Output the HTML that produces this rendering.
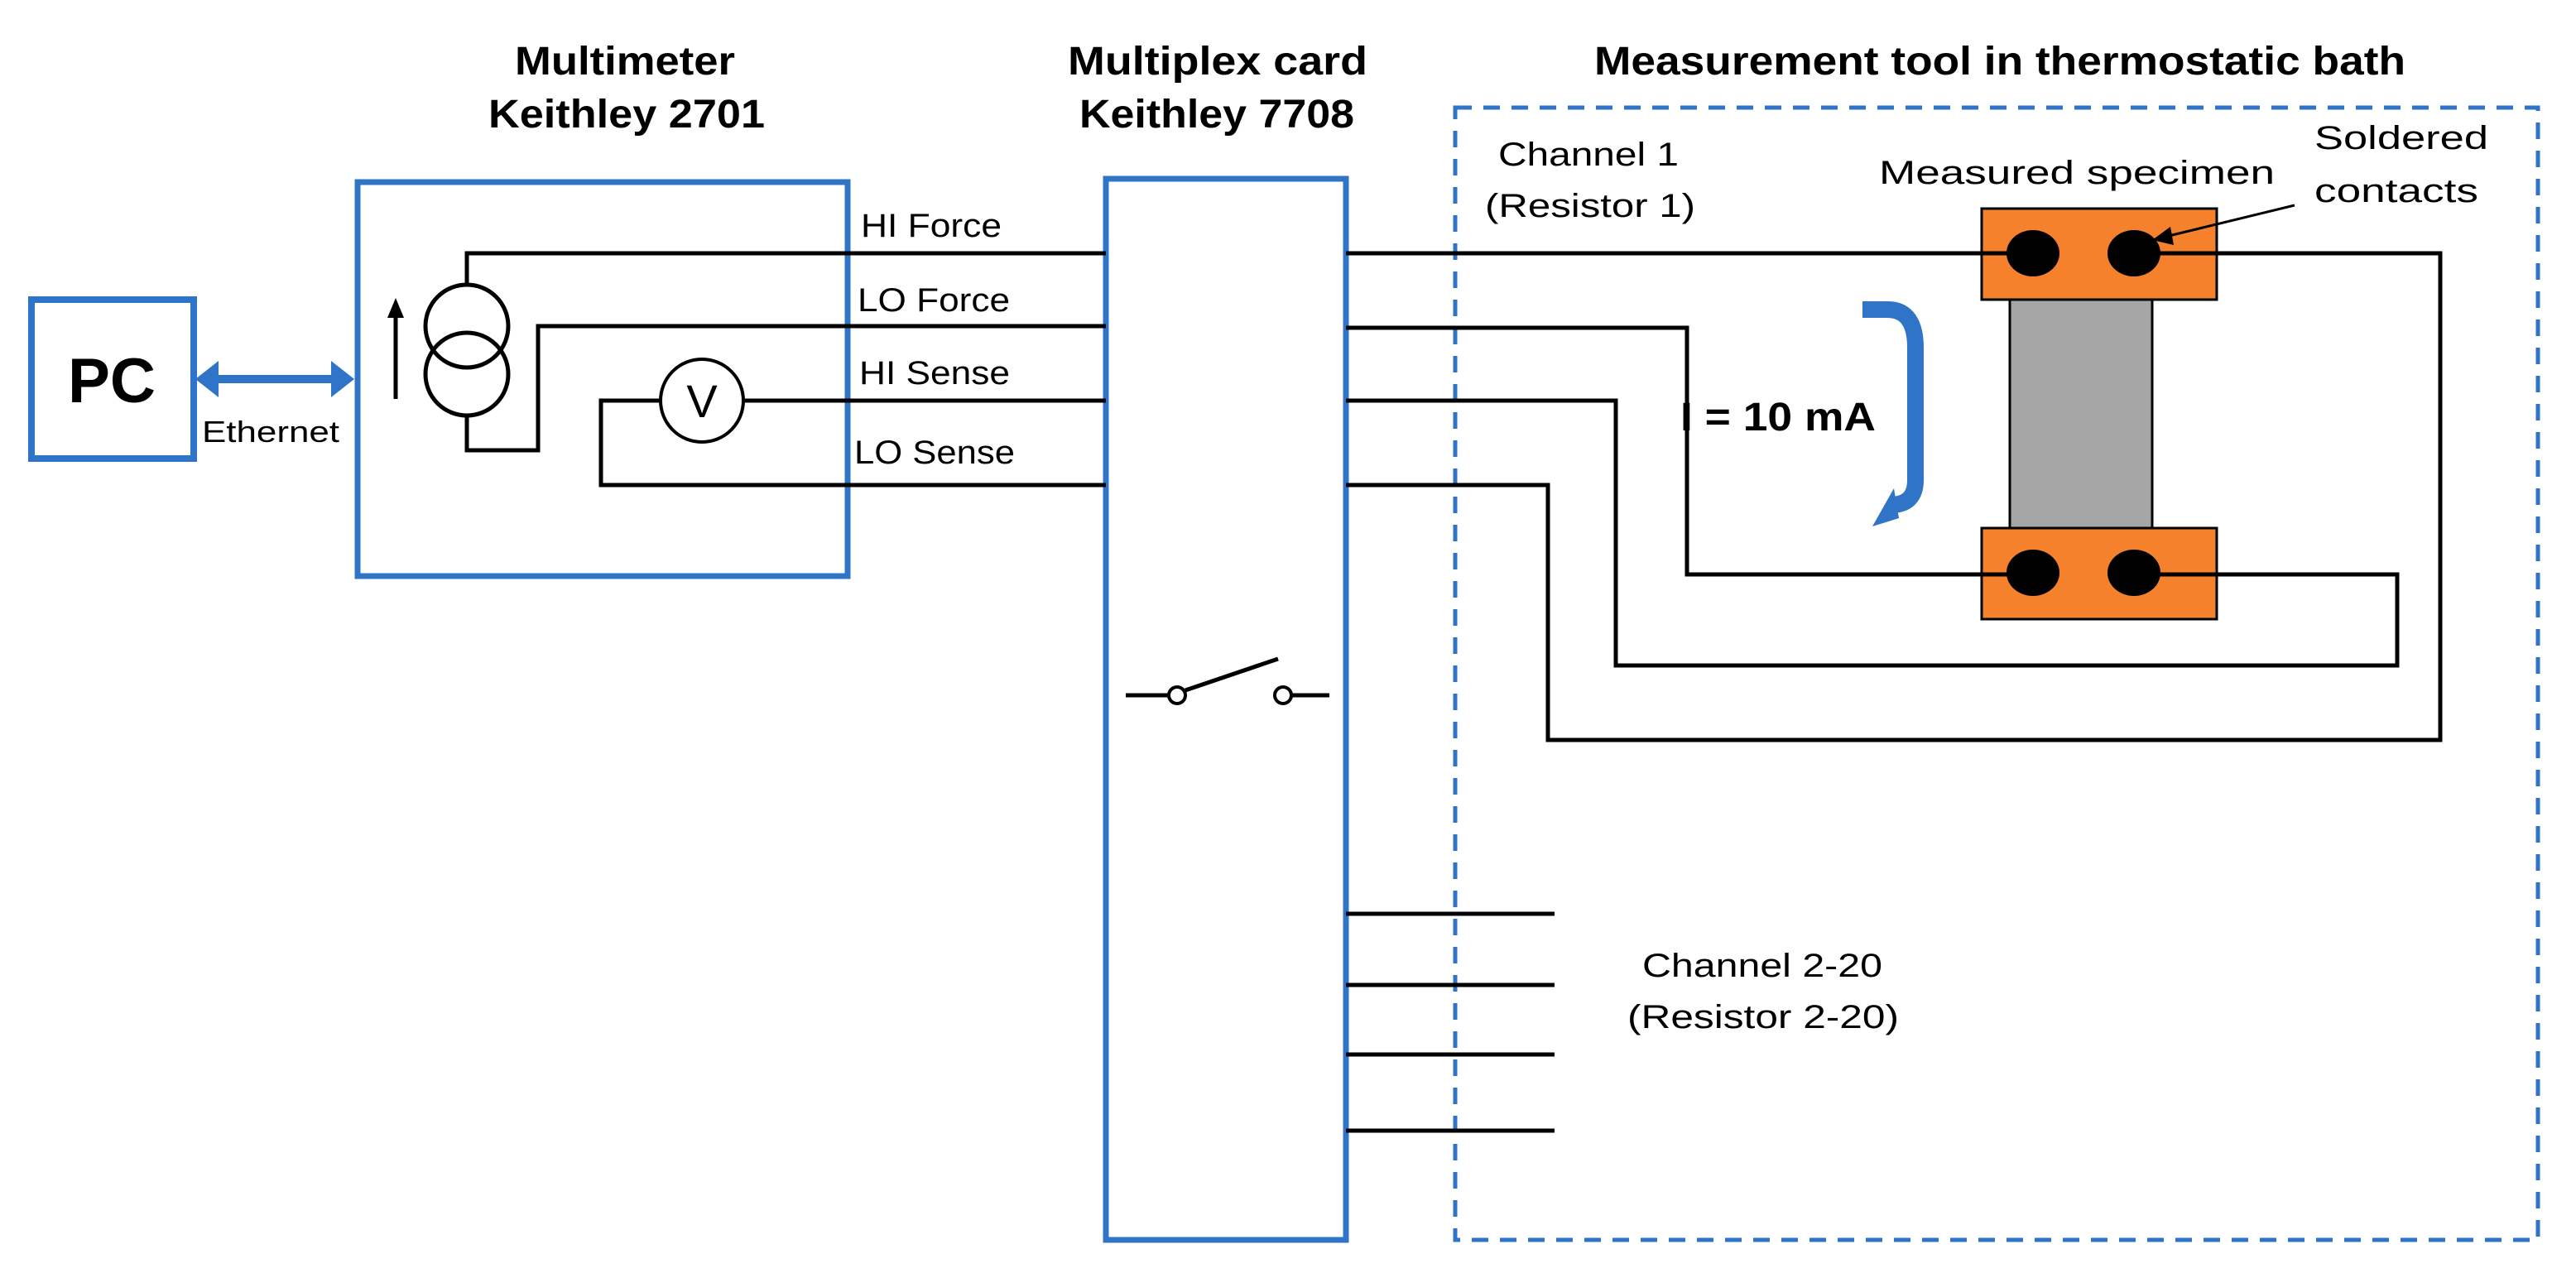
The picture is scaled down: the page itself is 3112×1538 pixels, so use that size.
<!DOCTYPE html>
<html><head><meta charset="utf-8"><style>
html,body{margin:0;padding:0;background:#fff;}
svg{display:block;}
text{font-family:"Liberation Sans",Arial,sans-serif;}
</style></head><body>
<svg width="3112" height="1538" viewBox="0 0 1556 769" xmlns="http://www.w3.org/2000/svg">
<!-- titles -->
<g font-weight="bold" font-size="24" fill="#000" lengthAdjust="spacingAndGlyphs">
<text x="311" y="45" textLength="133" lengthAdjust="spacingAndGlyphs">Multimeter</text>
<text x="295" y="77" textLength="167" lengthAdjust="spacingAndGlyphs">Keithley 2701</text>
<text x="645" y="45" textLength="181" lengthAdjust="spacingAndGlyphs">Multiplex card</text>
<text x="652" y="77" textLength="166" lengthAdjust="spacingAndGlyphs">Keithley 7708</text>
<text x="963" y="45" textLength="490" lengthAdjust="spacingAndGlyphs">Measurement tool in thermostatic bath</text>
</g>
<!-- PC -->
<rect x="19" y="181" width="98" height="96" fill="none" stroke="#2f74c6" stroke-width="4"/>
<text x="41" y="243" font-size="38" font-weight="bold" textLength="53" lengthAdjust="spacingAndGlyphs">PC</text>
<line x1="128" y1="229" x2="204" y2="229" stroke="#2f74c6" stroke-width="5"/>
<path d="M118,229 L132,218 L132,240 z" fill="#2f74c6"/>
<path d="M214,229 L200,218 L200,240 z" fill="#2f74c6"/>
<text x="122" y="267" font-size="18" textLength="83" lengthAdjust="spacingAndGlyphs">Ethernet</text>
<!-- boxes -->
<rect x="216" y="110" width="296" height="238" fill="none" stroke="#2f74c6" stroke-width="3.5"/>
<rect x="668" y="108" width="145" height="641" fill="none" stroke="#2f74c6" stroke-width="3.5"/>
<rect x="879" y="65" width="654" height="684" fill="none" stroke="#2f74c6" stroke-width="2.5" stroke-dasharray="10,7"/>
<!-- specimen -->
<rect x="1214" y="180" width="86" height="139" fill="#a6a6a6" stroke="#000" stroke-width="1.5"/>
<rect x="1197" y="126" width="142" height="55" fill="#f6812c" stroke="#000" stroke-width="1.5"/>
<rect x="1197" y="319" width="142" height="55" fill="#f6812c" stroke="#000" stroke-width="1.5"/>
<!-- wires -->
<g fill="none" stroke="#000" stroke-width="2.5">
<polyline points="668,153 282,153 282,171"/>
<polyline points="282,251 282,272 325,272 325,197 668,197"/>
<line x1="450" y1="242" x2="668" y2="242"/>
<polyline points="400,242 363,242 363,293 668,293"/>
<circle cx="282" cy="197" r="25"/>
<circle cx="282" cy="226" r="25"/>
<circle cx="424" cy="242" r="25" stroke-width="2"/>
<line x1="813" y1="153" x2="1228" y2="153"/>
<polyline points="1289,153 1474,153 1474,447 935,447 935,293 813,293"/>
<polyline points="813,198 1019,198 1019,347 1228,347"/>
<polyline points="1289,347 1448,347 1448,402 976,402 976,242 813,242"/>
<line x1="680" y1="420" x2="706" y2="420"/>
<line x1="780" y1="420" x2="803" y2="420"/>
<line x1="716" y1="417" x2="772" y2="398"/>
<line x1="813" y1="552" x2="939" y2="552"/>
<line x1="813" y1="595" x2="939" y2="595"/>
<line x1="813" y1="637" x2="939" y2="637"/>
<line x1="813" y1="683" x2="939" y2="683"/>
</g>
<circle cx="711" cy="420" r="5" fill="#fff" stroke="#000" stroke-width="2"/>
<circle cx="775" cy="420" r="5" fill="#fff" stroke="#000" stroke-width="2"/>
<text x="424" y="252" font-size="28" text-anchor="middle">V</text>
<line x1="239" y1="241" x2="239" y2="190" stroke="#000" stroke-width="2.5"/>
<path d="M239,180 L234,192 L244,192 z" fill="#000"/>
<!-- dots -->
<ellipse cx="1228" cy="153" rx="16" ry="14" fill="#000"/>
<ellipse cx="1289" cy="153" rx="16" ry="14" fill="#000"/>
<ellipse cx="1228" cy="346" rx="16" ry="14" fill="#000"/>
<ellipse cx="1289" cy="346" rx="16" ry="14" fill="#000"/>
<!-- labels -->
<g font-size="20" fill="#000">
<text x="520" y="143" textLength="85" lengthAdjust="spacingAndGlyphs">HI Force</text>
<text x="518" y="188" textLength="92" lengthAdjust="spacingAndGlyphs">LO Force</text>
<text x="519" y="232" textLength="91" lengthAdjust="spacingAndGlyphs">HI Sense</text>
<text x="516" y="280" textLength="97" lengthAdjust="spacingAndGlyphs">LO Sense</text>
<text x="905" y="100" textLength="109" lengthAdjust="spacingAndGlyphs">Channel 1</text>
<text x="897" y="131" textLength="127" lengthAdjust="spacingAndGlyphs">(Resistor 1)</text>
<text x="1135" y="111" textLength="239" lengthAdjust="spacingAndGlyphs">Measured specimen</text>
<text x="1398" y="90" textLength="105" lengthAdjust="spacingAndGlyphs">Soldered</text>
<text x="1398" y="122" textLength="99" lengthAdjust="spacingAndGlyphs">contacts</text>
<text x="992" y="590" textLength="145" lengthAdjust="spacingAndGlyphs">Channel 2-20</text>
<text x="983" y="621" textLength="164" lengthAdjust="spacingAndGlyphs">(Resistor 2-20)</text>
</g>
<text x="1015" y="260" font-size="24" font-weight="bold" textLength="118" lengthAdjust="spacingAndGlyphs">I = 10 mA</text>
<!-- soldered arrow -->
<line x1="1386" y1="124" x2="1308" y2="143" stroke="#000" stroke-width="1.5"/>
<path d="M1300,145 L1311,137 L1313,148 z" fill="#000"/>
<!-- current curved arrow -->
<path d="M1125,187 L1140,187 Q1157,187 1157,210 L1157,290 Q1157,305 1142,305" fill="none" stroke="#2f74c6" stroke-width="10"/>
<path d="M1131,318 L1144,295 L1147,313 z" fill="#2f74c6"/>
</svg>
</body></html>
